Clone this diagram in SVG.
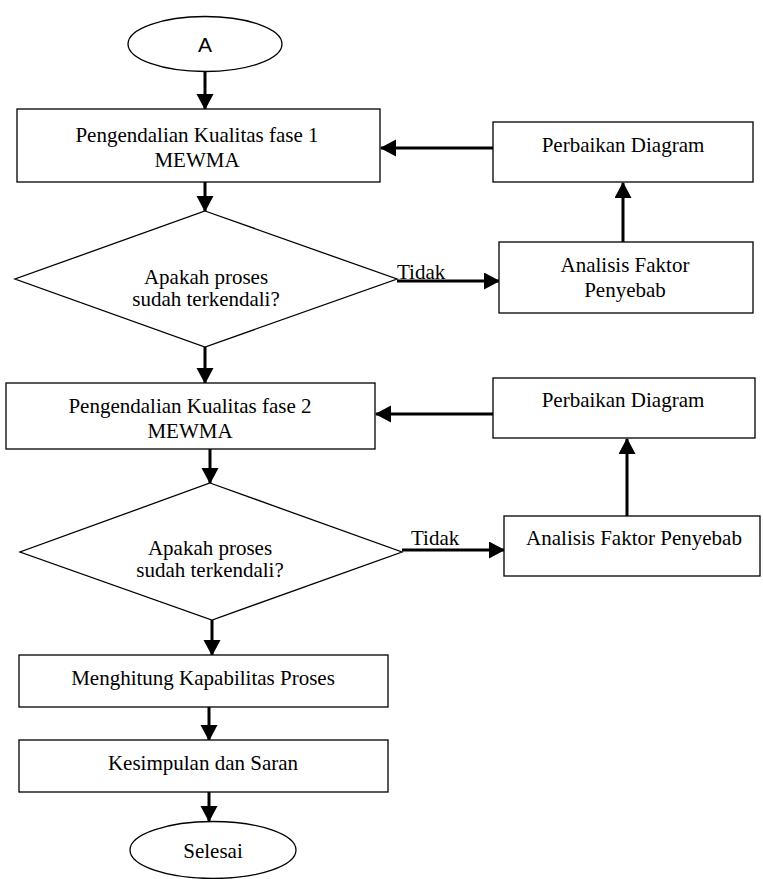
<svg xmlns="http://www.w3.org/2000/svg" width="763" height="879" viewBox="0 0 763 879">
<style>
.s{fill:#fff;stroke:#000;stroke-width:1.3}
.t{font-family:"Liberation Serif","Times New Roman",serif;font-size:21px;fill:#000;text-anchor:middle}
.c{fill:none;stroke:#000;stroke-width:3}
</style>
<defs>
<marker id="ah" markerUnits="userSpaceOnUse" markerWidth="16" markerHeight="18" refX="15" refY="8.5" orient="auto">
<path d="M0,0 L16,8.5 L0,17 z" fill="#000"/>
</marker>
</defs>
<rect width="763" height="879" fill="#fff"/>
<g id="connectors">
<line class="c" x1="205" y1="72" x2="205" y2="109" marker-end="url(#ah)"/>
<line class="c" x1="205" y1="182" x2="205" y2="211" marker-end="url(#ah)"/>
<line class="c" x1="493" y1="148" x2="381" y2="148" marker-end="url(#ah)"/>
<line class="c" x1="623" y1="242" x2="623" y2="183" marker-end="url(#ah)"/>
<line class="c" x1="397" y1="281" x2="499" y2="281" marker-end="url(#ah)"/>
<line class="c" x1="205" y1="347" x2="205" y2="383" marker-end="url(#ah)"/>
<line class="c" x1="493" y1="414" x2="376" y2="414" marker-end="url(#ah)"/>
<line class="c" x1="627" y1="516" x2="627" y2="439" marker-end="url(#ah)"/>
<line class="c" x1="402" y1="550" x2="504" y2="550" marker-end="url(#ah)"/>
<line class="c" x1="210" y1="449" x2="210" y2="483" marker-end="url(#ah)"/>
<line class="c" x1="212" y1="620" x2="212" y2="655" marker-end="url(#ah)"/>
<line class="c" x1="209" y1="707" x2="209" y2="740" marker-end="url(#ah)"/>
<line class="c" x1="209" y1="792" x2="209" y2="821" marker-end="url(#ah)"/>
<text class="t" x="397" y="279" style="text-anchor:start">Tidak</text>
<text class="t" x="411" y="545" style="text-anchor:start">Tidak</text>
</g>
<g id="start">
<ellipse class="s" cx="205" cy="44" rx="77" ry="27.5"/>
<text x="205" y="52" style="font-family:'Liberation Sans',Arial,sans-serif;font-size:21px;text-anchor:middle">A</text>
</g>
<g id="phase1">
<rect class="s" x="17" y="109" width="363" height="73"/>
<text class="t" x="197" y="142">Pengendalian Kualitas fase 1</text>
<text class="t" x="197" y="167">MEWMA</text>
</g>
<g id="decision1">
<polygon class="s" points="205,211 397,279 205,347 15,279"/>
<text class="t" x="206" y="284">Apakah proses</text>
<text class="t" x="206" y="306">sudah terkendali?</text>
</g>
<g id="perbaikan1">
<rect class="s" x="493" y="122" width="260" height="60"/>
<text class="t" x="623" y="152">Perbaikan Diagram</text>
</g>
<g id="analisis1">
<rect class="s" x="499" y="242" width="254" height="71"/>
<text class="t" x="625" y="272">Analisis Faktor</text>
<text class="t" x="625" y="297">Penyebab</text>
</g>
<g id="phase2">
<rect class="s" x="6" y="383" width="369" height="66"/>
<text class="t" x="190" y="413">Pengendalian Kualitas fase 2</text>
<text class="t" x="190" y="438">MEWMA</text>
</g>
<g id="decision2">
<polygon class="s" points="210,483 402,552 212,620 20,552"/>
<text class="t" x="210" y="555">Apakah proses</text>
<text class="t" x="210" y="577">sudah terkendali?</text>
</g>
<g id="perbaikan2">
<rect class="s" x="493" y="378" width="262" height="60"/>
<text class="t" x="623" y="407">Perbaikan Diagram</text>
</g>
<g id="analisis2">
<rect class="s" x="504" y="516" width="256" height="60"/>
<text class="t" x="634" y="545">Analisis Faktor Penyebab</text>
</g>
<g id="kapabilitas">
<rect class="s" x="19" y="655" width="369" height="52"/>
<text class="t" x="203" y="685">Menghitung Kapabilitas Proses</text>
</g>
<g id="kesimpulan">
<rect class="s" x="19" y="740" width="369" height="52"/>
<text class="t" x="203" y="770">Kesimpulan dan Saran</text>
</g>
<g id="end">
<ellipse class="s" cx="213" cy="850" rx="83" ry="28.5"/>
<text class="t" x="213" y="858">Selesai</text>
</g>
</svg>
